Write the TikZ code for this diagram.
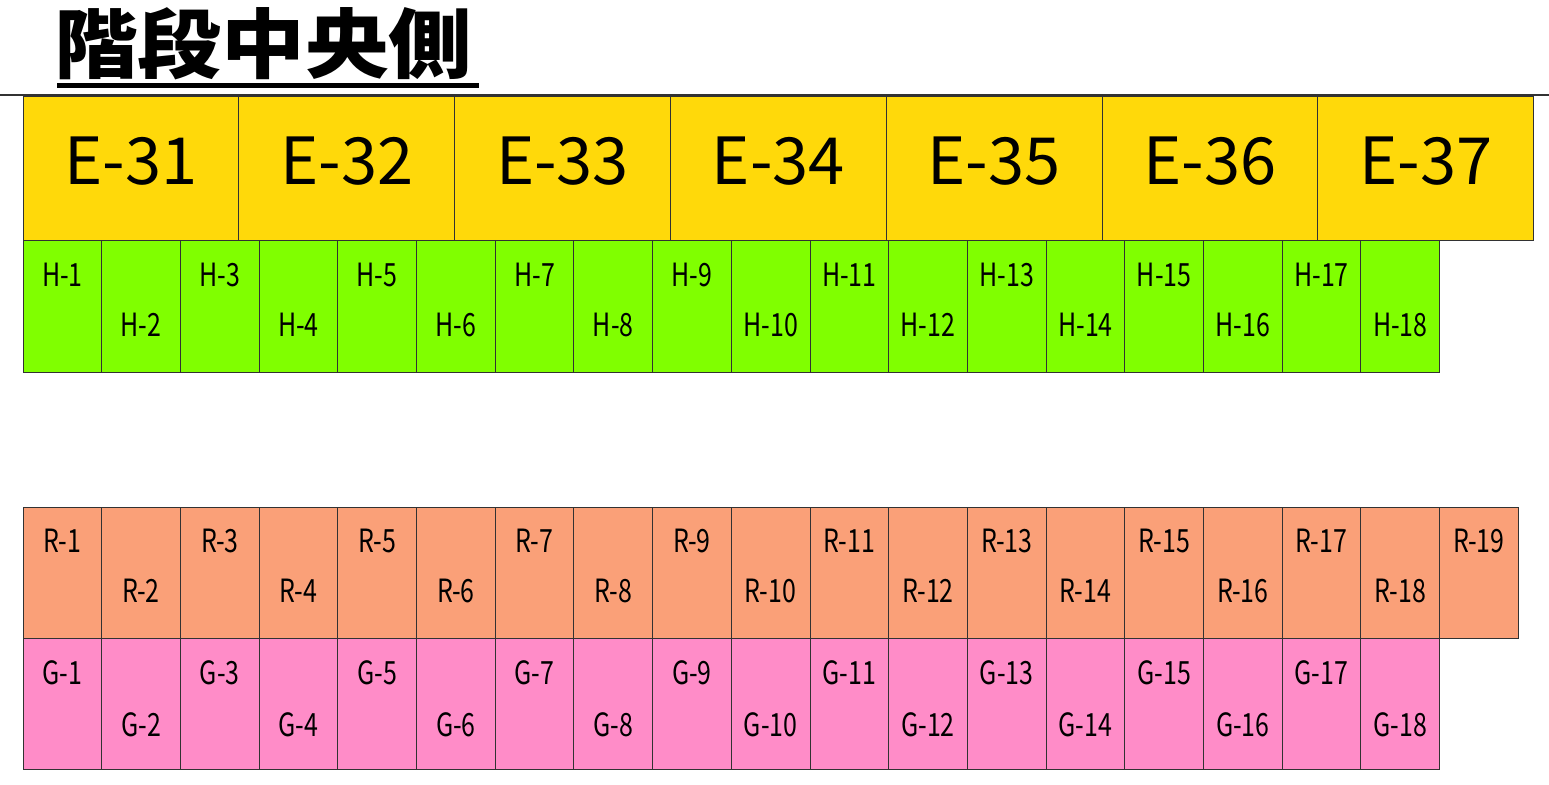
\documentclass[tikz,border=0pt]{standalone}
\usepackage{fontspec}
\setmainfont{Noto Sans CJK JP}
\newfontfamily\labfont[FakeStretch=0.78]{Noto Sans CJK JP}
\newfontfamily\ttlfont[FakeStretch=1.1]{Noto Sans CJK JP}
\definecolor{eyel}{RGB}{255,217,10}
\definecolor{hgrn}{RGB}{128,255,0}
\definecolor{rsal}{RGB}{250,160,120}
\definecolor{gpnk}{RGB}{255,140,200}
\definecolor{edgec}{RGB}{50,50,50}
\tikzset{
  cell/.style={rectangle, draw=edgec, line width=0.9pt, inner sep=0pt, outer sep=0pt, anchor=north west},
  ebox/.style={cell, fill=eyel, minimum width=215.8pt, minimum height=144pt},
  hbox/.style={cell, fill=hgrn, minimum width=78.7pt, minimum height=132pt},
  rbox/.style={cell, fill=rsal, minimum width=78.7pt, minimum height=131pt},
  gbox/.style={cell, fill=gpnk, minimum width=78.7pt, minimum height=131pt},
  elab/.style={inner sep=0pt, font=\fontsize{65}{70}\selectfont},
  slab/.style={inner sep=0pt, font=\labfont\fontsize{32}{36}\selectfont}
}
\begin{document}
\begin{tikzpicture}[x=1pt,y=-1pt]
\useasboundingbox (0,0) rectangle (1549,784);
% title
\node[font=\ttlfont\bfseries\fontsize{76}{84}\selectfont, anchor=base west, inner sep=0pt] (title) at (54,73) {階段中央側};
\draw[line width=5pt] (57,85) -- (479,85);
\draw[line width=2pt, edgec] (0,95) -- (1549,95);
% E row
\foreach \i [evaluate=\i as \n using {int(31+\i)}] in {0,...,6} {
  \node[ebox] (e\n) at ({23+\i*215.8},96) {};
  \node[elab] (e\n t) at ([yshift=-65pt]e\n.north) {E-\n};
}
% H row
\foreach \i [evaluate=\i as \off using {35+50*(1-mod(\i,2))}] in {1,...,18} {
  \node[hbox] (h\i) at ({23+(\i-1)*78.7},240) {};
  \node[slab] (h\i t) at ([yshift=-\off pt]h\i.north) {H-\i};
}
% R row
\foreach \i [evaluate=\i as \off using {34+50*(1-mod(\i,2))}] in {1,...,19} {
  \node[rbox] (r\i) at ({23+(\i-1)*78.7},507) {};
  \node[slab] (r\i t) at ([yshift=-\off pt]r\i.north) {R-\i};
}
% G row
\foreach \i [evaluate=\i as \off using {35+52*(1-mod(\i,2))}] in {1,...,18} {
  \node[gbox] (g\i) at ({23+(\i-1)*78.7},638) {};
  \node[slab] (g\i t) at ([yshift=-\off pt]g\i.north) {G-\i};
}
\end{tikzpicture}
\end{document}
